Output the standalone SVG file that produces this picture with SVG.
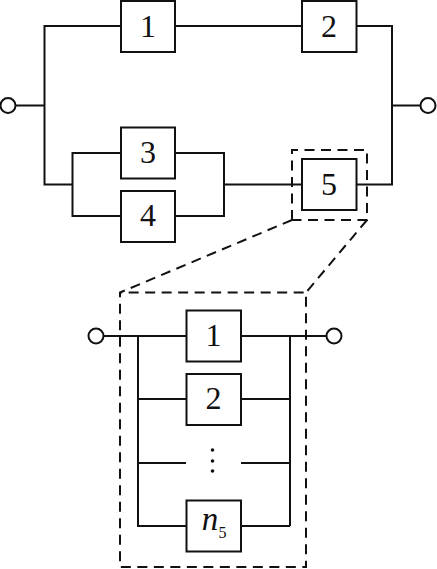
<svg xmlns="http://www.w3.org/2000/svg" width="437" height="569" viewBox="0 0 437 569">
<style>
.l{fill:none;stroke:#111;stroke-width:2}
.d{fill:none;stroke:#111;stroke-width:2;stroke-dasharray:10 6.500}
.b{fill:#fff;stroke:#111;stroke-width:2}
.c{fill:#fff;stroke:#111;stroke-width:2}
text{font-family:"Liberation Serif",serif;font-size:32px;fill:#111;text-anchor:middle}
</style>
<rect width="437" height="569" fill="#fff"/>
<g id="connectors">
<path class="l" d="M15.500 105.500H44.500M121 26H44.500V184.500H72.500M121 153H72.500V216H121M175 153H224V216H175M224 184.500H302M175 26H302M356 26H392V184.500H356M392 105.500H420.500"/>
<path class="l" d="M103.500 336H186M241 336H326.500M138 336V526H186M138 399H186M138 463H186M241 463H290M241 399H290M241 526H290M290 336V526"/>
<path class="d" d="M292 220V150H367V220H292"/>
<path class="d" d="M292 220L120 292.500V567H306V292.500H120"/>
<path class="d" d="M367 220L306 292.500"/>
<circle cx="212.500" cy="450" r="1.800" fill="#111"/>
<circle cx="212.500" cy="461" r="1.800" fill="#111"/>
<circle cx="212.500" cy="471" r="1.800" fill="#111"/>
</g>
<g id="in1"><circle class="c" cx="8" cy="105.500" r="7.500"/></g>
<g id="out1"><circle class="c" cx="428" cy="105.500" r="7.500"/></g>
<g id="in2"><circle class="c" cx="96" cy="336" r="7.500"/></g>
<g id="out2"><circle class="c" cx="334" cy="336" r="7.500"/></g>
<g id="n1"><rect class="b" x="121" y="1" width="54" height="51"/><text x="148" y="37">1</text></g>
<g id="n2"><rect class="b" x="302" y="1" width="54.500" height="51"/><text x="329" y="37">2</text></g>
<g id="n3"><rect class="b" x="121" y="127.500" width="54" height="51"/><text x="148" y="163">3</text></g>
<g id="n4"><rect class="b" x="121" y="191" width="54" height="51"/><text x="148" y="226">4</text></g>
<g id="n5"><rect class="b" x="302" y="159" width="54.500" height="51"/><text x="329" y="195">5</text></g>
<g id="m1"><rect class="b" x="186.500" y="310.500" width="54.500" height="51"/><text x="213.500" y="346">1</text></g>
<g id="m2"><rect class="b" x="186.500" y="374" width="54.500" height="51"/><text x="213.500" y="409">2</text></g>
<g id="mn"><rect class="b" x="186.500" y="500.500" width="54.500" height="51"/><text x="210" y="530" font-style="italic" style="font-size:33px">n</text><text x="222.500" y="538" style="font-size:16px">5</text></g>
</svg>
